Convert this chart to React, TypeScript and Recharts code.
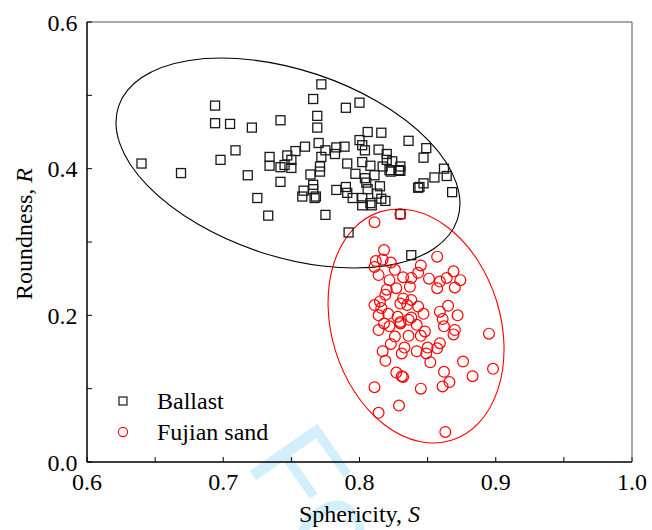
import React from "react";
import {
  ScatterChart,
  Scatter,
  XAxis,
  YAxis,
  ReferenceArea,
  Legend,
  Label,
} from "recharts";

// Ballast grains: sphericity S and roundness R
const ballastS = [
  0.640, 0.669, 0.694, 0.694, 0.705, 0.721, 0.742, 0.709, 0.698, 0.718,
  0.725, 0.733, 0.734, 0.734, 0.742, 0.747, 0.753, 0.745, 0.750, 0.742,
  0.750, 0.760, 0.772, 0.766, 0.790, 0.800, 0.769, 0.769, 0.806, 0.816,
  0.836, 0.849, 0.847, 0.862, 0.855, 0.864, 0.844, 0.847, 0.800, 0.802,
  0.804, 0.814, 0.820, 0.824, 0.830, 0.830, 0.822, 0.817, 0.811, 0.808,
  0.802, 0.791, 0.797, 0.804, 0.805, 0.806, 0.815, 0.813, 0.795, 0.802,
  0.809, 0.802, 0.816, 0.819, 0.790, 0.791, 0.783, 0.775, 0.792, 0.789,
  0.783, 0.782, 0.775, 0.770, 0.772, 0.771, 0.771, 0.764, 0.766, 0.766,
  0.759, 0.758, 0.768, 0.767, 0.838, 0.868, 0.830, 0.843, 0.823, 0.829,
  0.820, 0.808,
];
const ballastR = [
  0.407, 0.394, 0.486, 0.462, 0.461, 0.456, 0.466, 0.425, 0.412, 0.391,
  0.360, 0.336, 0.416, 0.404, 0.402, 0.418, 0.424, 0.405, 0.401, 0.382,
  0.412, 0.430, 0.515, 0.495, 0.483, 0.490, 0.472, 0.456, 0.450, 0.449,
  0.438, 0.428, 0.415, 0.400, 0.388, 0.390, 0.375, 0.380, 0.439, 0.432,
  0.425, 0.426, 0.420, 0.410, 0.403, 0.397, 0.398, 0.403, 0.391, 0.404,
  0.409, 0.407, 0.393, 0.387, 0.381, 0.372, 0.376, 0.366, 0.360, 0.350,
  0.350, 0.360, 0.359, 0.356, 0.375, 0.367, 0.371, 0.337, 0.313, 0.430,
  0.429, 0.420, 0.425, 0.435, 0.416, 0.403, 0.396, 0.392, 0.378, 0.372,
  0.370, 0.362, 0.362, 0.360, 0.282, 0.368, 0.338, 0.374, 0.396, 0.398,
  0.412, 0.353,
];

// Fujian sand grains
const sandS = [
  0.830, 0.811, 0.818, 0.812, 0.817, 0.823, 0.811, 0.857, 0.845, 0.843,
  0.826, 0.814, 0.822, 0.832, 0.838, 0.837, 0.851, 0.859, 0.857, 0.864,
  0.869, 0.874, 0.870, 0.827, 0.820, 0.819, 0.832, 0.838, 0.830, 0.811,
  0.815, 0.816, 0.843, 0.835, 0.865, 0.859, 0.814, 0.821, 0.847, 0.872,
  0.861, 0.828, 0.838, 0.830, 0.836, 0.818, 0.822, 0.830, 0.842, 0.862,
  0.814, 0.826, 0.836, 0.845, 0.848, 0.870, 0.869, 0.895, 0.823, 0.833,
  0.817, 0.831, 0.842, 0.850, 0.857, 0.859, 0.819, 0.849, 0.852, 0.876,
  0.827, 0.831, 0.832, 0.862, 0.866, 0.883, 0.898, 0.861, 0.845, 0.811,
  0.829, 0.814, 0.863,
];
const sandR = [
  0.338, 0.327, 0.289, 0.274, 0.276, 0.272, 0.266, 0.280, 0.268, 0.258,
  0.262, 0.255, 0.248, 0.252, 0.251, 0.239, 0.250, 0.246, 0.237, 0.251,
  0.260, 0.248, 0.238, 0.237, 0.235, 0.228, 0.223, 0.221, 0.216, 0.214,
  0.219, 0.210, 0.212, 0.214, 0.213, 0.205, 0.200, 0.202, 0.202, 0.200,
  0.195, 0.198, 0.197, 0.191, 0.194, 0.189, 0.185, 0.189, 0.187, 0.185,
  0.180, 0.171, 0.172, 0.172, 0.178, 0.180, 0.174, 0.175, 0.161, 0.156,
  0.151, 0.148, 0.151, 0.156, 0.155, 0.162, 0.138, 0.148, 0.136, 0.137,
  0.122, 0.117, 0.116, 0.123, 0.109, 0.117, 0.127, 0.103, 0.100, 0.102,
  0.077, 0.067, 0.041,
];

const xTicks = [0.6, 0.65, 0.7, 0.75, 0.8, 0.85, 0.9, 0.95, 1.0];
const xTickLabels = ["0.6", "", "0.7", "", "0.8", "", "0.9", "", "1.0"];
const yTicks = [0, 0.1, 0.2, 0.3, 0.4, 0.5, 0.6];
const yTickLabels = ["0.0", "", "0.2", "", "0.4", "", "0.6"];

// fitted ellipses: centre, half-extents (data units) and tilt in degrees
const ballastEllipse = { cx: 0.7475, cy: 0.4077, hx: 0.1311, hy: 0.1271, angle: 18.5 };
const sandEllipse = { cx: 0.8415, cy: 0.1855, hx: 0.0619, hy: 0.1632, angle: -17.2 };

const ballast = ballastS.map((s, i) => ({ s, r: ballastR[i] }));
const sand = sandS.map((s, i) => ({ s, r: sandR[i] }));

const SERIF = "Liberation Serif";

const SquareMark = (p: any) => (
  <rect x={p.cx - 4.5} y={p.cy - 4.5} width={9} height={9} fill="none" stroke="#1a1a1a" strokeWidth={1.3} />
);
const CircleMark = (p: any) => (
  <circle cx={p.cx} cy={p.cy} r={5.4} fill="none" stroke="#ff0000" strokeWidth={1.2} />
);

const ellipseShape = (color: string, angle: number) => (p: any) => {
  const cx = p.x + p.width / 2;
  const cy = p.y + p.height / 2;
  return (
    <ellipse
      cx={cx}
      cy={cy}
      rx={p.width / 2}
      ry={p.height / 2}
      fill="none"
      stroke={color}
      strokeWidth={1.1}
      transform={`rotate(${angle} ${cx} ${cy})`}
    />
  );
};

const fmt = (ticks: number[], labels: string[]) => (v: number) => {
  const i = ticks.findIndex((t) => Math.abs(t - v) < 1e-6);
  return i >= 0 ? labels[i] : "";
};

const LegendBox = () => (
  <svg width={190} height={66} style={{ display: "block" }}>
    <rect x={7} y={12} width={8} height={8} fill="none" stroke="#1a1a1a" strokeWidth={1.2} />
    <circle cx={11} cy={47} r={4.6} fill="none" stroke="#ff0000" strokeWidth={1.1} />
    <text x={45} y={24} style={{ fontFamily: SERIF }} fontSize={24} fill="#000">Ballast</text>
    <text x={45} y={55} style={{ fontFamily: SERIF }} fontSize={24} fill="#000">Fujian sand</text>
  </svg>
);

const YTitle = ({ viewBox }: any) => {
  const x = viewBox.x + 32;
  const y = viewBox.y + viewBox.height / 2 - 8;
  return (
    <text x={x} y={y} transform={`rotate(-90 ${x} ${y})`} textAnchor="middle" style={{ fontFamily: SERIF }} fontSize={24} fill="#000">
      Roundness, <tspan fontStyle="italic">R</tspan>
    </text>
  );
};

const XTitle = ({ viewBox }: any) => {
  const x = viewBox.x + viewBox.width / 2;
  const y = viewBox.y + 60;
  return (
    <text x={x} y={y} textAnchor="middle" style={{ fontFamily: SERIF }} fontSize={24} fill="#000">
      Sphericity, <tspan fontStyle="italic">S</tspan>
    </text>
  );
};

export default function App() {
  return (
    <div style={{ position: "absolute", left: 0, top: 0, width: 652, height: 530, background: "#fff" }}>
      <svg width={652} height={530} style={{ position: "absolute", left: 0, top: 0 }}>
        <text
          x={244}
          y={463}
          fontFamily="Liberation Sans"
          fontSize={120}
          fill="#d3effc"
          transform="rotate(55 244 463)"
        >
          Fo
        </text>
      </svg>
      <div style={{ position: "absolute", left: 0, top: 0, fontFamily: SERIF }}>
        <ScatterChart width={652} height={530} margin={{ top: 20, right: 18, bottom: 0, left: 0 }}>
          <XAxis
            type="number"
            dataKey="s"
            domain={[0.6, 1.0]}
            ticks={xTicks}
            interval={0}
            allowDataOverflow
            tickFormatter={fmt(xTicks, xTickLabels)}
            tickSize={-5}
            tickMargin={16}
            height={68}
            axisLine={{ stroke: "#000", strokeWidth: 1.5 }}
            tickLine={{ stroke: "#000", strokeWidth: 1 }}
            tick={{ fill: "#000", fontSize: 24, fontFamily: SERIF }}
          >
            <Label content={<XTitle />} />
          </XAxis>
          <XAxis
            xAxisId="top"
            orientation="top"
            type="number"
            domain={[0.6, 1.0]}
            ticks={xTicks}
            interval={0}
            allowDataOverflow
            tick={false}
            tickSize={-5}
            height={2}
            axisLine={{ stroke: "#555", strokeWidth: 1 }}
            tickLine={{ stroke: "#555", strokeWidth: 1 }}
          />
          <YAxis
            type="number"
            dataKey="r"
            domain={[0, 0.6]}
            ticks={yTicks}
            interval={0}
            allowDataOverflow
            tickFormatter={fmt(yTicks, yTickLabels)}
            tickSize={-5}
            tickMargin={14.5}
            width={87}
            axisLine={{ stroke: "#000", strokeWidth: 1.5 }}
            tickLine={{ stroke: "#000", strokeWidth: 1 }}
            tick={{ fill: "#000", fontSize: 24, fontFamily: SERIF }}
          >
            <Label content={<YTitle />} />
          </YAxis>
          <YAxis
            yAxisId="right"
            orientation="right"
            type="number"
            domain={[0, 0.6]}
            ticks={yTicks}
            interval={0}
            allowDataOverflow
            tick={false}
            tickSize={-5}
            width={2}
            axisLine={{ stroke: "#555", strokeWidth: 1 }}
            tickLine={{ stroke: "#555", strokeWidth: 1 }}
          />
          <ReferenceArea
            x1={ballastEllipse.cx - ballastEllipse.hx}
            x2={ballastEllipse.cx + ballastEllipse.hx}
            y1={ballastEllipse.cy - ballastEllipse.hy}
            y2={ballastEllipse.cy + ballastEllipse.hy}
            ifOverflow="visible"
            shape={ellipseShape("#000", ballastEllipse.angle)}
          />
          <ReferenceArea
            x1={sandEllipse.cx - sandEllipse.hx}
            x2={sandEllipse.cx + sandEllipse.hx}
            y1={sandEllipse.cy - sandEllipse.hy}
            y2={sandEllipse.cy + sandEllipse.hy}
            ifOverflow="visible"
            shape={ellipseShape("#ff0000", sandEllipse.angle)}
          />
          <Scatter name="Ballast" data={ballast} shape={SquareMark} isAnimationActive={false} />
          <Scatter name="Fujian sand" data={sand} shape={CircleMark} isAnimationActive={false} />
          <Legend
            layout="vertical"
            align="center"
            verticalAlign="middle"
            content={() => <LegendBox />}
            wrapperStyle={{ left: 112, top: 385, width: 190, height: 66 }}
          />
        </ScatterChart>
      </div>
    </div>
  );
}
